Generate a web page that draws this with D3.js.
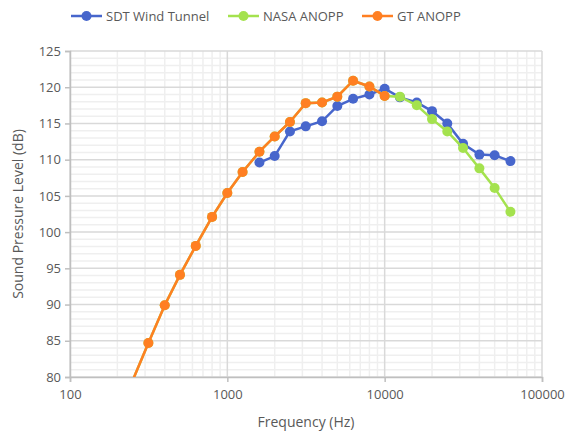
<!DOCTYPE html>
<html>
<head>
<meta charset="utf-8">
<script src="https://cdn.jsdelivr.net/npm/d3@7"></script>
<style>
  body { margin: 0; background: #fff; }
  text { font-family: "Open Sans", "Noto Sans", sans-serif; fill: #595959; }
</style>
</head>
<body>
<div id="chart"></div>
<script>
// Fréquences en tiers d'octave (Hz)
const freqSDT = [1600, 2000, 2500, 3150, 4000, 5000, 6300, 8000, 10000, 12500, 16000, 20000, 25000, 31500, 40000, 50000, 63000];
const splSDT = [109.6, 110.5, 113.9, 114.6, 115.3, 117.4, 118.4, 119.0, 119.8, 118.6, 117.9, 116.7, 115.0, 112.2, 110.7, 110.6, 109.8];

const freqGT = [250, 315, 400, 500, 630, 800, 1000, 1250, 1600, 2000, 2500, 3150, 4000, 5000, 6300, 8000, 10000];
const splGT = [79.5, 84.7, 89.9, 94.1, 98.1, 102.1, 105.4, 108.3, 111.1, 113.2, 115.2, 117.8, 117.9, 118.7, 120.9, 120.1, 118.8];

const freqNASA = freqGT.concat([12500, 16000, 20000, 25000, 31500, 40000, 50000, 63000]);
const splNASA = splGT.concat([118.7, 117.5, 115.6, 113.9, 111.6, 108.8, 106.1, 102.8]);

const xTicks = [100, 1000, 10000, 100000];
const yTicks = [80, 85, 90, 95, 100, 105, 110, 115, 120, 125];

const series = [
  { name: "SDT Wind Tunnel", color: "#4766cc", x: freqSDT, y: splSDT },
  { name: "NASA ANOPP", color: "#a4e24e", x: freqNASA, y: splNASA },
  { name: "GT ANOPP", color: "#ff7f22", x: freqGT, y: splGT }
];

const width = 568, height = 433;
const margin = { left: 70, right: 26, top: 51, bottom: 56 };

const svg = d3.select("#chart").append("svg")
  .attr("width", width)
  .attr("height", height);

const x = d3.scaleLog().domain([100, 100000]).range([margin.left, width - margin.right]);
const y = d3.scaleLinear().domain([80, 125]).range([height - margin.bottom, margin.top]);

// Grille secondaire
const minorX = [];
for (let d = 100; d < 100000; d *= 10) for (let k = 2; k <= 9; k++) minorX.push(d * k);
const minorY = d3.range(80, 126, 1).filter(v => v % 5 !== 0);

const grid = svg.append("g");
grid.selectAll(".mx").data(minorX).enter().append("line")
  .attr("x1", d => x(d)).attr("x2", d => x(d))
  .attr("y1", y(80)).attr("y2", y(125))
  .attr("stroke", "#efefef").attr("stroke-width", 1.5);
grid.selectAll(".my").data(minorY).enter().append("line")
  .attr("x1", x(100)).attr("x2", x(100000))
  .attr("y1", d => y(d)).attr("y2", d => y(d))
  .attr("stroke", "#efefef").attr("stroke-width", 1.5);
// Grille principale
grid.selectAll(".Mx").data(xTicks).enter().append("line")
  .attr("x1", d => x(d)).attr("x2", d => x(d))
  .attr("y1", y(80)).attr("y2", y(125))
  .attr("stroke", "#d9d9d9").attr("stroke-width", 1.5);
grid.selectAll(".My").data(yTicks).enter().append("line")
  .attr("x1", x(100)).attr("x2", x(100000))
  .attr("y1", d => y(d)).attr("y2", d => y(d))
  .attr("stroke", "#d9d9d9").attr("stroke-width", 1.5);

// Axes
const xAxis = svg.append("g")
  .attr("transform", `translate(0,${y(80)})`)
  .call(d3.axisBottom(x).tickValues(xTicks).tickFormat(d3.format("d")).tickSize(5).tickPadding(8));
const yAxis = svg.append("g")
  .attr("transform", `translate(${x(100)},0)`)
  .call(d3.axisLeft(y).tickValues(yTicks).tickSize(5).tickPadding(4));
[xAxis, yAxis].forEach(a => {
  a.select(".domain").attr("stroke", "#bfbfbf").attr("stroke-width", 1.5);
  a.selectAll(".tick line").attr("stroke", "#bfbfbf").attr("stroke-width", 1.5);
  a.selectAll("text").style("font-size", "13px").attr("fill", "#595959");
});

// Titres des axes
svg.append("text")
  .attr("x", (x(100) + x(100000)) / 2).attr("y", 427)
  .attr("text-anchor", "middle").style("font-size", "14px")
  .text("Frequency (Hz)");
svg.append("text")
  .attr("transform", `translate(23,${(y(80) + y(125)) / 2}) rotate(-90)`)
  .attr("text-anchor", "middle").style("font-size", "14px")
  .text("Sound Pressure Level (dB)");

// Courbes
svg.append("clipPath").attr("id", "plot")
  .append("rect")
  .attr("x", x(100)).attr("y", y(125))
  .attr("width", x(100000) - x(100)).attr("height", y(80) - y(125));

const line = d3.line().x(d => x(d[0])).y(d => y(d[1]));

series.forEach(s => {
  const pts = s.x.map((f, i) => [f, s.y[i]]);
  const g = svg.append("g").attr("clip-path", "url(#plot)");
  g.append("path")
    .datum(pts)
    .attr("d", line)
    .attr("fill", "none")
    .attr("stroke", s.color)
    .attr("stroke-width", 2.5);
  g.selectAll("circle")
    .data(pts.filter(d => d[1] >= 80))
    .enter().append("circle")
    .attr("cx", d => x(d[0])).attr("cy", d => y(d[1]))
    .attr("r", 5)
    .attr("fill", s.color);
});

// Légende
const legendX = [71, 228, 362];
const legend = svg.append("g");
series.forEach((s, i) => {
  const g = legend.append("g").attr("transform", `translate(${legendX[i]},16)`);
  g.append("line").attr("x1", 0).attr("x2", 31).attr("stroke", s.color).attr("stroke-width", 2.5);
  g.append("circle").attr("cx", 15.5).attr("r", 5).attr("fill", s.color);
  g.append("text").attr("x", 35).attr("dy", "0.35em").style("font-size", "13px").text(s.name);
});
</script>
</body>
</html>
